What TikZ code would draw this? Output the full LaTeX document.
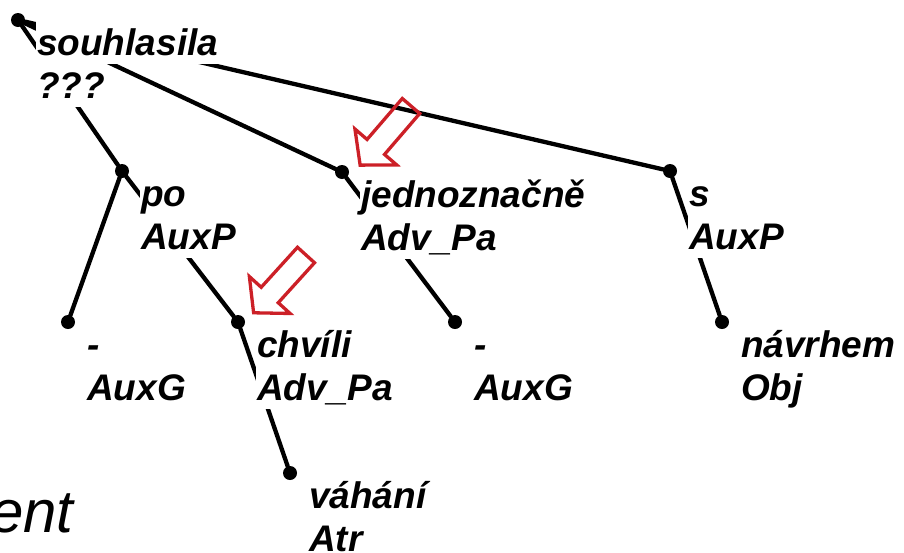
\documentclass[tikz,border=0pt]{standalone}
\usepackage{fontspec}
\setmainfont{Liberation Sans}
\usetikzlibrary{positioning}
\definecolor{hintred}{RGB}{204,32,39}

\begin{document}
\begin{tikzpicture}[
		x=1pt, y=-1pt,
		line join=round, line cap=round,
		dot/.style={circle, fill=black, inner sep=0pt, minimum size=14pt},
		edge/.style={line width=4.3pt},
		lbl/.style={fill=white, inner xsep=1.5pt, inner ysep=0pt,
				text height=34.5pt, text depth=8.5pt,
				font=\fontsize{37}{43}\selectfont\bfseries\itshape},
		word/.style={lbl, anchor=base west, shift={(17.5,35)}},
		func/.style={lbl, anchor=north west},
		hint/.style={draw=hintred, line width=3.3pt, line join=miter}
	]
	\useasboundingbox (0,0) rectangle (904,552);

	% Tree nodes (dots)
	\node[dot] (root) at (18,20) {};
	\node[dot] (po) at (122,171) {};
	\node[dot] (jedn) at (342,172) {};
	\node[dot] (s) at (670,171) {};
	\node[dot] (dashl) at (68,322) {};
	\node[dot] (chvili) at (238,322) {};
	\node[dot] (dashr) at (455,322) {};
	\node[dot] (navrhem) at (722,322) {};
	\node[dot] (vahani) at (290,473) {};

	% Edges
	\foreach \a/\b in {root/po, root/jedn, root/s,
			po/dashl, po/chvili, jedn/dashr,
			s/navrhem, chvili/vahani}{
			\draw[edge] (\a) -- (\b);
		}

	% Labels (white boxes hide the edges)
	\foreach \n/\w/\f in {
			root/souhlasila/???,
			po/po/AuxP,
			jedn/jednoznačně/Adv\_Pa,
			s/s/AuxP,
			dashl/-/AuxG,
			chvili/chvíli/Adv\_Pa,
			dashr/-/AuxG,
			navrhem/návrhem/Obj,
			vahani/váhání/Atr}{
			\node[word] (\n-w) at (\n) {\w};
			\node[func] (\n-f) at (\n-w.south west) {\f};
		}

	% Hollow hint arrows
	\newcommand{\hintarrow}[3]{%
		\draw[hint, shift={(#1,#2)}, rotate=#3]
		(0,-11.5) -- (54,-11.5) -- (54,-27.5) -- (78,0) -- (54,27.5) -- (54,11.5) -- (0,11.5) -- cycle;
	}
	\hintarrow{411}{106}{229.3}
	\hintarrow{306}{255}{227.8}

	% Cut-off caption
	\node[anchor=base east, font=\fontsize{60}{72}\selectfont\itshape] (ment) at (77,532) {ment};
\end{tikzpicture}
\end{document}
